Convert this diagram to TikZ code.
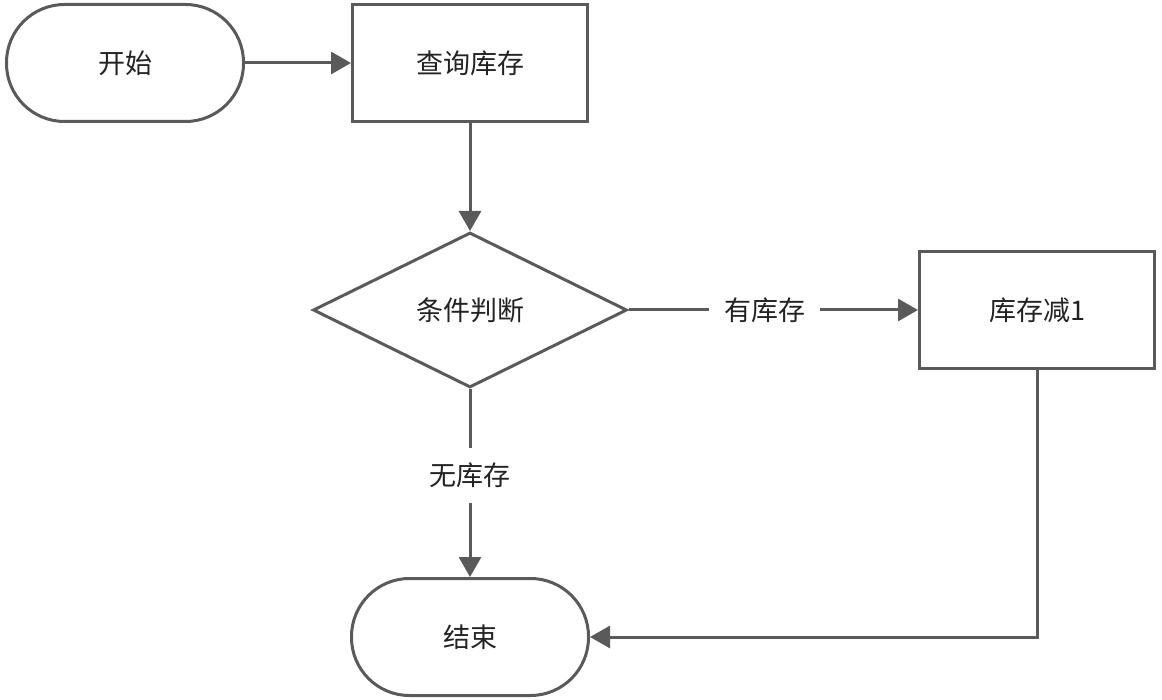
\documentclass[tikz,border=0pt]{standalone}
\usepackage{fontspec}
\setmainfont{Noto Sans CJK SC}
\usetikzlibrary{shapes.geometric,arrows.meta}
\definecolor{linegray}{HTML}{5A5A5A}
\definecolor{textgray}{HTML}{222222}
\begin{document}
\begin{tikzpicture}[x=1pt, y=-1pt,
  terminal/.style={draw=linegray, line width=3pt, rounded corners=58pt, minimum width=237pt, minimum height=117pt, font=\fontsize{27}{32}\selectfont, text=textgray},
  process/.style={draw=linegray, line width=3pt, minimum width=235pt, minimum height=117pt, font=\fontsize{27}{32}\selectfont, text=textgray},
  decision/.style={diamond, draw=linegray, line width=3pt, minimum width=314pt, minimum height=155pt, inner sep=0pt, font=\fontsize{27}{32}\selectfont, text=textgray},
  flow/.style={-{Triangle[length=20pt,width=22pt]}, draw=linegray, line width=3pt},
  cond/.style={fill=white, inner sep=15pt, font=\fontsize{27}{32}\selectfont, text=textgray}
]
\useasboundingbox (0,0) rectangle (1162,700);
\node[terminal] (start) at (125,63) {开始};
\node[process] (query) at (470,63) {查询库存};
\node[decision] (check) at (470,310) {条件判断};
\node[process] (reduce) at (1037,310) {库存减1};
\node[terminal] (end) at (470,637) {结束};
\draw[flow] (start) -- (query);
\draw[flow] (query) -- (check);
\draw[flow] (check) -- node[cond, pos=0.47] {有库存} (reduce);
\draw[flow] (check) -- node[cond, pos=0.46] {无库存} (end);
\draw[flow] (reduce) |- (end);
\end{tikzpicture}
\end{document}
